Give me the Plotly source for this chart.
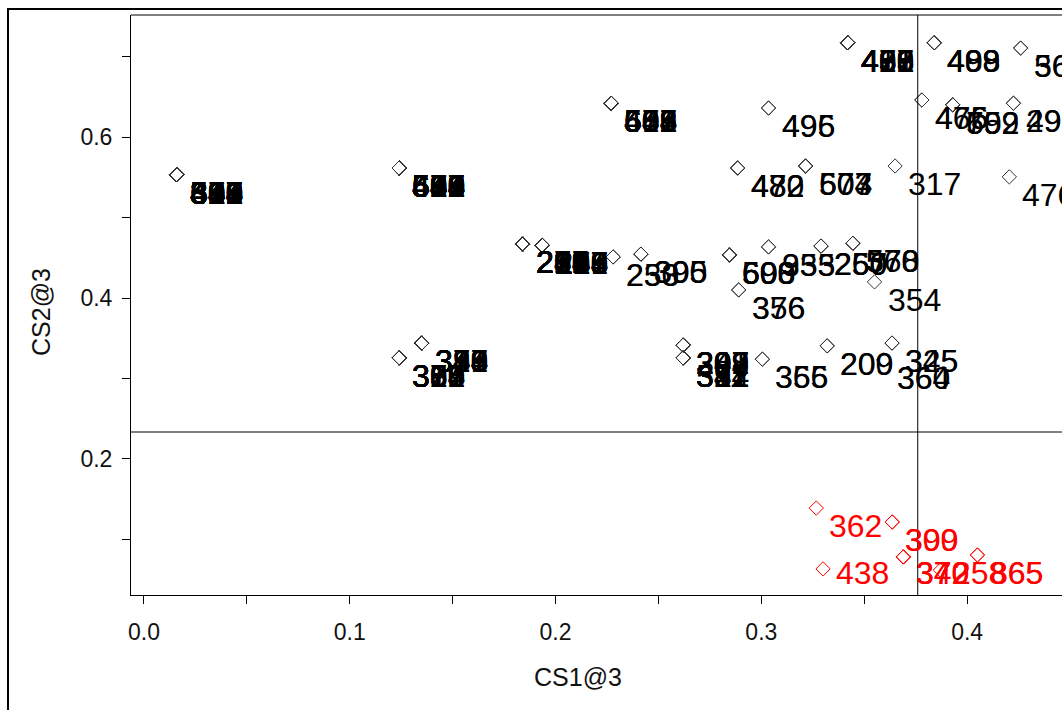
import plotly.graph_objects as go

# ---- data: one entry per plotted position (CS1@3, CS2@3) and the sample ids found there ----
site_cs1 = [
    0.016, 0.124, 0.227, 0.3035, 0.342, 0.384, 0.426, 0.378, 0.393, 0.4225,
    0.2885, 0.3215, 0.365, 0.4205,
    0.184, 0.1935, 0.228, 0.2415, 0.2845, 0.3035, 0.329, 0.3445, 0.355, 0.289,
    0.262, 0.262, 0.3005, 0.332, 0.3635, 0.3595, 0.135, 0.124,
    0.3267, 0.3636, 0.330, 0.369, 0.387, 0.405,
]
site_cs2 = [
    0.553, 0.5615, 0.642, 0.636, 0.717, 0.717, 0.7105, 0.646, 0.640, 0.642,
    0.5615, 0.564, 0.564, 0.5505,
    0.467, 0.4655, 0.451, 0.4545, 0.4535, 0.4635, 0.4645, 0.468, 0.420, 0.410,
    0.3415, 0.3255, 0.324, 0.3405, 0.344, 0.323, 0.344, 0.3255,
    0.139, 0.1217, 0.0634, 0.0783, 0.062, 0.0807,
]
site_ids = [
    ["301", "318", "325", "346", "352", "369", "384", "397", "410", "428", "443", "456",
     "471", "489", "502", "517", "530", "563", "581", "594", "608", "627", "640", "655"],
    ["406", "431", "452", "468", "489", "510", "527", "548", "561", "573", "586", "594",
     "608", "619", "634", "645", "512", "553", "580", "537", "599", "642", "670", "621"],
    ["405", "502", "506", "604", "483", "552", "617", "531", "648", "579"],
    ["495", "496"],
    ["401", "437", "458", "482", "490", "466", "413", "429", "475", "451"],
    ["499", "408", "498", "489"],
    ["363", "565"],
    ["475", "466"],
    ["759", "602", "592"],
    ["296", "492"],
    ["480", "482", "472"],
    ["507", "574", "603"],
    ["317"],
    ["476"],
    ["216", "228", "231", "245", "263", "290", "274", "209", "251", "283", "237", "212"],
    ["204", "237", "256", "288", "219", "241", "267", "295", "226", "278", "240", "263"],
    ["253", "230"],
    ["305", "395", "390"],
    ["503", "600", "693", "590", "608"],
    ["353", "935"],
    ["257", "250", "260"],
    ["378", "570", "560"],
    ["354"],
    ["376", "356"],
    ["207", "309", "202", "301", "289", "297", "248"],
    ["311", "322", "392", "512", "381", "334", "347"],
    ["355", "366"],
    ["200", "209"],
    ["325", "345"],
    ["360", "364"],
    ["313", "324", "348", "373", "387", "359", "396", "330", "341"],
    ["302", "327", "339", "351", "368", "384", "315", "390", "376"],
    ["362"],
    ["399", "300"],
    ["438"],
    ["370", "372", "340"],
    ["258"],
    ["365", "865"],
]

H_CUT = 0.2335   # horizontal reference line (CS2@3)
V_CUT = 0.376    # vertical reference line (CS1@3)

X_RANGE = [-0.0063, 0.4461]
Y_RANGE = [0.031, 0.7516]

FONT = "Liberation Sans, Arial, sans-serif"
RED = "#ff0000"
DARK = "#333333"

# expand to one row per sample
cs1, cs2, ids = [], [], []
for x, y, group in zip(site_cs1, site_cs2, site_ids):
    for t in group:
        cs1.append(x)
        cs2.append(y)
        ids.append(t)

colors = [RED if y < H_CUT else DARK for y in cs2]
text_colors = [RED if y < H_CUT else "#000000" for y in cs2]

fig = go.Figure()
fig.add_trace(go.Scatter(
    x=cs1, y=cs2, mode="markers",
    marker=dict(symbol="diamond-open", size=11, color=colors,
                line=dict(width=1, color=colors)),
    hoverinfo="skip", showlegend=False,
))

# point labels: below-right of each marker, kept inside the plot at the bottom
LABEL_DY = 0.0224
LABEL_FLOOR = 0.0584
for x, y, t, c in zip(cs1, cs2, ids, text_colors):
    fig.add_annotation(
        x=x, y=max(y - LABEL_DY, LABEL_FLOOR), text=t,
        xanchor="left", yanchor="middle", xshift=11,
        showarrow=False, font=dict(family=FONT, size=32, color=c),
    )

L, R, T, B = 131, 0, 15, 115
W, Hh = 1062, 710
pw, ph = W - L - R, Hh - T - B

shapes = [
    dict(type="line", xref="x", yref="paper", x0=V_CUT, x1=V_CUT, y0=0, y1=1,
         line=dict(color="black", width=1)),
    dict(type="line", xref="paper", yref="y", x0=0, x1=1, y0=H_CUT, y1=H_CUT,
         line=dict(color="black", width=1)),
    dict(type="line", xref="paper", yref="paper", x0=0, x1=1, y0=1, y1=1,
         line=dict(color="black", width=1)),
    dict(type="rect", xref="paper", yref="paper",
         x0=(8 - L) / pw, x1=1.2, y0=-0.4, y1=(Hh - B - 9) / ph,
         line=dict(color="black", width=2), fillcolor="rgba(0,0,0,0)"),
]

fig.add_annotation(text="CS1@3", xref="paper", yref="paper",
                   x=(578 - L) / pw, y=(Hh - B - 677) / ph,
                   xanchor="center", yanchor="middle", showarrow=False,
                   font=dict(family=FONT, size=25, color="#111111"))
fig.add_annotation(text="CS2@3", xref="paper", yref="paper",
                   x=(41 - L) / pw, y=(Hh - B - 312) / ph, textangle=-90,
                   xanchor="center", yanchor="middle", showarrow=False,
                   font=dict(family=FONT, size=25, color="#111111"))

axis_common = dict(
    showgrid=False, zeroline=False, showline=True, linecolor="black", linewidth=1,
    ticks="outside", ticklen=8, tickwidth=1, tickcolor="black",
    tickfont=dict(family=FONT, size=23, color="#111111"),
)

fig.update_layout(
    width=W, height=Hh,
    margin=dict(l=L, r=R, t=T, b=B),
    paper_bgcolor="white", plot_bgcolor="white",
    shapes=shapes,
    xaxis=dict(range=X_RANGE, tickvals=[0, 0.1, 0.2, 0.3, 0.4],
               ticktext=["0.0", "0.1", "0.2", "0.3", "0.4"],
               minor=dict(tickvals=[0.05, 0.15, 0.25, 0.35], ticks="outside",
                          ticklen=8, tickcolor="black"),
               ticklabelstandoff=8, **axis_common),
    yaxis=dict(range=Y_RANGE, tickvals=[0.2, 0.4, 0.6],
               ticktext=["0.2", "0.4", "0.6"],
               minor=dict(tickvals=[0.1, 0.3, 0.5, 0.7], ticks="outside",
                          ticklen=8, tickcolor="black"),
               ticklabelstandoff=5, **axis_common),
)

fig.write_html("out.html")
